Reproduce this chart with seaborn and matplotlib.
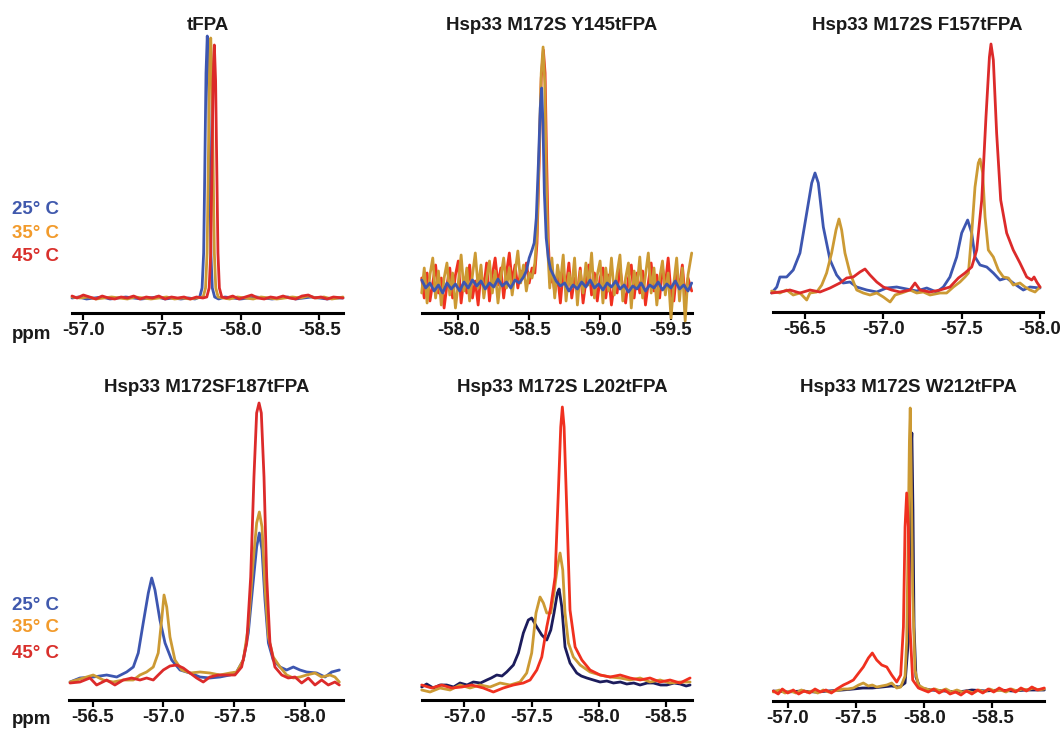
import numpy as np
import matplotlib
matplotlib.use("Agg")
import matplotlib.pyplot as plt
import seaborn as sns

# ---------------- data (ppm, intensity in a.u.) ----------------
legend_labels = ["25° C", "35° C", "45° C"]
titles = ["tFPA", "Hsp33 M172S Y145tFPA", "Hsp33 M172S F157tFPA",
          "Hsp33 M172SF187tFPA", "Hsp33 M172S L202tFPA", "Hsp33 M172S W212tFPA"]

p1_ticks = [-57.0, -57.5, -58.0, -58.5]
p2_ticks = [-58.0, -58.5, -59.0, -59.5]
p3_ticks = [-56.5, -57.0, -57.5, -58.0]
p4_ticks = [-56.5, -57.0, -57.5, -58.0]
p5_ticks = [-57.0, -57.5, -58.0, -58.5]
p6_ticks = [-57.0, -57.5, -58.0, -58.5]

p1_blue = [(-56.928, 15), (-56.97, 16), (-57.02, 14), (-57.07, 15), (-57.12, 16), (-57.17, 14), (-57.22, 15),
           (-57.27, 16), (-57.32, 15), (-57.37, 14), (-57.42, 15), (-57.47, 16), (-57.52, 14), (-57.57, 15),
           (-57.62, 14), (-57.67, 15), (-57.71, 14), (-57.74, 16), (-57.755, 25), (-57.765, 60), (-57.772, 140),
           (-57.780, 240), (-57.788, 277), (-57.796, 240), (-57.804, 140), (-57.811, 60), (-57.82, 25),
           (-57.835, 16), (-57.86, 14), (-57.90, 16), (-57.95, 15), (-58.00, 14), (-58.05, 15), (-58.10, 16),
           (-58.15, 15), (-58.20, 14), (-58.25, 15), (-58.30, 16), (-58.35, 14), (-58.40, 15), (-58.45, 16),
           (-58.50, 15), (-58.55, 14), (-58.60, 15), (-58.651, 15)]
p1_orange = [(-56.928, 16), (-56.98, 15), (-57.03, 16), (-57.08, 14), (-57.13, 15), (-57.18, 16), (-57.23, 15),
             (-57.28, 14), (-57.33, 16), (-57.38, 15), (-57.43, 14), (-57.48, 15), (-57.53, 16), (-57.58, 14),
             (-57.63, 15), (-57.68, 14), (-57.72, 15), (-57.762, 16), (-57.777, 25), (-57.787, 60),
             (-57.794, 140), (-57.802, 238), (-57.810, 275), (-57.818, 238), (-57.826, 140), (-57.833, 60),
             (-57.842, 25), (-57.857, 16), (-57.89, 15), (-57.93, 14), (-57.98, 16), (-58.03, 15), (-58.08, 14),
             (-58.13, 16), (-58.18, 15), (-58.23, 14), (-58.28, 15), (-58.33, 16), (-58.38, 15), (-58.43, 17),
             (-58.48, 15), (-58.53, 16), (-58.58, 14), (-58.62, 15), (-58.651, 16)]
p1_red = [(-56.928, 17), (-56.96, 15), (-57.0, 18), (-57.04, 16), (-57.08, 14), (-57.12, 17), (-57.16, 15),
          (-57.20, 14), (-57.24, 16), (-57.28, 15), (-57.32, 17), (-57.36, 14), (-57.40, 16), (-57.44, 15),
          (-57.48, 17), (-57.52, 14), (-57.56, 16), (-57.60, 15), (-57.64, 16), (-57.68, 14), (-57.72, 16),
          (-57.76, 15), (-57.785, 16), (-57.80, 25), (-57.81, 60), (-57.817, 140), (-57.825, 232),
          (-57.833, 268), (-57.841, 232), (-57.849, 140), (-57.856, 60), (-57.865, 25), (-57.88, 16),
          (-57.91, 15), (-57.95, 17), (-57.99, 14), (-58.03, 16), (-58.07, 18), (-58.11, 15), (-58.15, 14),
          (-58.19, 16), (-58.23, 15), (-58.27, 17), (-58.31, 15), (-58.35, 14), (-58.39, 17), (-58.43, 18),
          (-58.47, 15), (-58.51, 16), (-58.55, 14), (-58.59, 16), (-58.651, 15)]

p2_blue = [(-57.742, 33), (-57.77, 25), (-57.80, 30), (-57.83, 22), (-57.86, 28), (-57.89, 20), (-57.92, 30),
           (-57.95, 24), (-57.98, 29), (-58.01, 22), (-58.04, 31), (-58.07, 25), (-58.10, 33), (-58.13, 27),
           (-58.16, 32), (-58.19, 24), (-58.22, 30), (-58.25, 26), (-58.28, 34), (-58.31, 27), (-58.34, 31),
           (-58.37, 25), (-58.40, 33), (-58.43, 30), (-58.46, 36), (-58.48, 42), (-58.50, 55), (-58.52, 63),
           (-58.535, 70), (-58.55, 95), (-58.565, 150), (-58.578, 205), (-58.588, 225), (-58.597, 190),
           (-58.607, 120), (-58.62, 75), (-58.635, 55), (-58.65, 44), (-58.67, 38), (-58.69, 32), (-58.72, 27),
           (-58.75, 30), (-58.78, 22), (-58.81, 28), (-58.84, 24), (-58.87, 31), (-58.90, 26), (-58.93, 33),
           (-58.96, 25), (-58.99, 29), (-59.02, 23), (-59.05, 30), (-59.08, 26), (-59.11, 32), (-59.14, 24),
           (-59.17, 28), (-59.20, 21), (-59.23, 27), (-59.26, 24), (-59.29, 30), (-59.32, 22), (-59.35, 28),
           (-59.38, 25), (-59.41, 31), (-59.44, 23), (-59.47, 29), (-59.50, 25), (-59.53, 32), (-59.56, 24),
           (-59.59, 28), (-59.62, 22), (-59.646, 30)]
p2_orange = [(-57.742, 20), (-57.76, 45), (-57.78, 10), (-57.80, 38), (-57.82, 55), (-57.84, 15), (-57.86, 42),
             (-57.88, 8), (-57.90, 35), (-57.92, 50), (-57.94, 18), (-57.96, 40), (-57.98, 5), (-58.00, 30),
             (-58.02, 58), (-58.04, 22), (-58.06, 45), (-58.08, 12), (-58.10, 38), (-58.12, 60), (-58.14, 25),
             (-58.16, 48), (-58.18, 15), (-58.20, 35), (-58.22, 52), (-58.24, 20), (-58.26, 42), (-58.28, 10),
             (-58.30, 36), (-58.32, 55), (-58.34, 25), (-58.36, 45), (-58.38, 18), (-58.40, 40), (-58.42, 62),
             (-58.44, 30), (-58.46, 48), (-58.48, 22), (-58.50, 40), (-58.52, 35), (-58.54, 50), (-58.555, 80),
             (-58.57, 160), (-58.585, 240), (-58.598, 266), (-58.61, 230), (-58.62, 140), (-58.632, 60),
             (-58.645, 25), (-58.66, 55), (-58.68, 15), (-58.70, 48), (-58.72, 30), (-58.74, 58), (-58.76, 12),
             (-58.78, 40), (-58.80, 25), (-58.82, 55), (-58.84, 8), (-58.86, 42), (-58.88, 20), (-58.90, 50),
             (-58.92, 28), (-58.94, 60), (-58.96, 15), (-58.98, 38), (-59.00, 52), (-59.02, 10), (-59.04, 45),
             (-59.06, 22), (-59.08, 55), (-59.10, 18), (-59.12, 40), (-59.14, 58), (-59.16, 12), (-59.18, 35),
             (-59.20, 50), (-59.22, 5), (-59.24, 42), (-59.26, 25), (-59.28, 56), (-59.30, 15), (-59.32, 38),
             (-59.34, 60), (-59.36, 20), (-59.38, 45), (-59.40, 8), (-59.42, 35), (-59.44, 52), (-59.46, 18),
             (-59.48, 40), (-59.50, -5), (-59.52, 30), (-59.54, 55), (-59.56, 12), (-59.58, 45), (-59.60, -8),
             (-59.62, 38), (-59.646, 60)]
p2_red = [(-57.742, 35), (-57.76, 15), (-57.78, 40), (-57.80, 12), (-57.82, 30), (-57.84, 48), (-57.86, 20),
          (-57.88, 35), (-57.90, 5), (-57.92, 28), (-57.94, 45), (-57.96, 15), (-57.98, 38), (-58.00, 52),
          (-58.02, 10), (-58.04, 35), (-58.06, 20), (-58.08, 48), (-58.10, 15), (-58.12, 32), (-58.14, 8),
          (-58.16, 40), (-58.18, 25), (-58.20, 50), (-58.22, 12), (-58.24, 38), (-58.26, 55), (-58.28, 28),
          (-58.30, 45), (-58.32, 15), (-58.34, 40), (-58.36, 60), (-58.38, 30), (-58.40, 48), (-58.42, 25),
          (-58.44, 42), (-58.46, 35), (-58.48, 50), (-58.50, 30), (-58.52, 45), (-58.54, 40), (-58.555, 70),
          (-58.57, 150), (-58.585, 235), (-58.600, 263), (-58.612, 240), (-58.622, 160), (-58.635, 70),
          (-58.648, 30), (-58.66, 45), (-58.68, 20), (-58.70, 38), (-58.72, 10), (-58.74, 42), (-58.76, 25),
          (-58.78, 50), (-58.80, 15), (-58.82, 35), (-58.84, 20), (-58.86, 45), (-58.88, 10), (-58.90, 32),
          (-58.92, 48), (-58.94, 18), (-58.96, 40), (-58.98, 12), (-59.00, 35), (-59.02, 45), (-59.04, 15),
          (-59.06, 38), (-59.08, 8), (-59.10, 30), (-59.12, 20), (-59.14, 45), (-59.16, 25), (-59.18, 10),
          (-59.20, 35), (-59.22, 48), (-59.24, 15), (-59.26, 40), (-59.28, 20), (-59.30, 42), (-59.32, 8),
          (-59.34, 30), (-59.36, 50), (-59.38, 22), (-59.40, 38), (-59.42, 15), (-59.44, 45), (-59.46, 28),
          (-59.48, 55), (-59.50, 20), (-59.52, 12), (-59.54, 40), (-59.56, 25), (-59.58, 48), (-59.60, 15),
          (-59.62, 35), (-59.646, 22)]

p3_blue = [(-56.287, 19), (-56.32, 25), (-56.34, 35), (-56.383, 35), (-56.425, 42), (-56.468, 59), (-56.511, 99),
           (-56.543, 129), (-56.564, 139), (-56.585, 129), (-56.617, 85), (-56.66, 52), (-56.702, 37),
           (-56.744, 29), (-56.787, 30), (-56.83, 25), (-56.894, 22), (-56.958, 20), (-57.021, 24), (-57.085, 25),
           (-57.149, 23), (-57.213, 21), (-57.277, 24), (-57.34, 20), (-57.383, 25), (-57.425, 35), (-57.468, 55),
           (-57.5, 79), (-57.538, 92), (-57.564, 79), (-57.585, 55), (-57.617, 47), (-57.66, 45), (-57.702, 39),
           (-57.744, 32), (-57.787, 34), (-57.829, 29), (-57.893, 22), (-57.936, 25), (-58.0, 24)]
p3_orange = [(-56.287, 21), (-56.34, 19), (-56.383, 22), (-56.425, 17), (-56.468, 19), (-56.511, 12),
             (-56.532, 19), (-56.575, 20), (-56.607, 27), (-56.638, 39), (-56.67, 59), (-56.698, 82), (-56.717, 93),
             (-56.734, 82), (-56.755, 59), (-56.787, 39), (-56.83, 22), (-56.872, 19), (-56.915, 17), (-56.958, 19),
             (-57.0, 15), (-57.043, 10), (-57.075, 17), (-57.117, 19), (-57.17, 22), (-57.213, 19), (-57.255, 20),
             (-57.298, 17), (-57.362, 19), (-57.404, 19), (-57.447, 25), (-57.489, 30), (-57.521, 35),
             (-57.543, 39), (-57.564, 79), (-57.585, 125), (-57.606, 149), (-57.617, 153), (-57.634, 139),
             (-57.649, 95), (-57.67, 62), (-57.702, 55), (-57.734, 42), (-57.766, 35), (-57.798, 34), (-57.829, 27),
             (-57.872, 29), (-57.904, 25), (-57.936, 22), (-57.968, 20), (-58.0, 25)]
p3_red = [(-56.287, 19), (-56.34, 20), (-56.404, 22), (-56.468, 19), (-56.532, 22), (-56.596, 20), (-56.66, 24),
          (-56.723, 29), (-56.766, 34), (-56.808, 35), (-56.851, 40), (-56.883, 43), (-56.915, 37), (-56.958, 30),
          (-57.0, 25), (-57.053, 22), (-57.106, 20), (-57.17, 22), (-57.202, 29), (-57.234, 22), (-57.298, 20),
          (-57.362, 22), (-57.425, 25), (-57.479, 34), (-57.521, 39), (-57.564, 45), (-57.596, 62), (-57.628, 112),
          (-57.655, 195), (-57.677, 255), (-57.687, 268), (-57.702, 252), (-57.723, 179), (-57.749, 112),
          (-57.787, 79), (-57.829, 62), (-57.872, 49), (-57.915, 35), (-57.947, 32), (-57.962, 35), (-57.979, 30),
          (-58.0, 25)]

p4_blue = [(-56.34, 18), (-56.41, 22), (-56.504, 23), (-56.599, 25), (-56.67, 23), (-56.74, 28), (-56.787, 33),
           (-56.822, 47), (-56.857, 77), (-56.893, 107), (-56.917, 122), (-56.94, 110), (-56.975, 80),
           (-57.011, 57), (-57.058, 40), (-57.117, 30), (-57.187, 27), (-57.258, 23), (-57.328, 22), (-57.399, 23),
           (-57.47, 25), (-57.517, 28), (-57.564, 40), (-57.599, 67), (-57.63, 113), (-57.658, 153), (-57.677, 167),
           (-57.696, 150), (-57.717, 100), (-57.741, 57), (-57.775, 40), (-57.823, 33), (-57.87, 30),
           (-57.917, 33), (-57.964, 30), (-58.011, 28), (-58.082, 27), (-58.141, 23), (-58.188, 28), (-58.242, 30)]
p4_orange = [(-56.34, 18), (-56.434, 22), (-56.504, 25), (-56.575, 20), (-56.645, 18), (-56.716, 20), (-56.787, 20),
             (-56.834, 25), (-56.881, 28), (-56.928, 33), (-56.963, 47), (-56.987, 80), (-57.004, 105),
             (-57.023, 93), (-57.046, 63), (-57.081, 40), (-57.129, 30), (-57.187, 27), (-57.258, 28), (-57.328, 27),
             (-57.399, 25), (-57.47, 27), (-57.517, 28), (-57.564, 40), (-57.599, 73), (-57.63, 133), (-57.658, 177),
             (-57.677, 188), (-57.696, 173), (-57.717, 113), (-57.741, 63), (-57.775, 43), (-57.823, 33),
             (-57.87, 25), (-57.917, 22), (-57.964, 23), (-58.011, 25), (-58.07, 27), (-58.117, 23), (-58.176, 25),
             (-58.211, 23), (-58.242, 18)]
p4_red = [(-56.34, 17), (-56.41, 18), (-56.481, 22), (-56.528, 15), (-56.599, 20), (-56.657, 15), (-56.716, 20),
          (-56.775, 22), (-56.834, 20), (-56.881, 22), (-56.928, 20), (-56.963, 25), (-56.999, 30), (-57.046, 34),
          (-57.093, 35), (-57.14, 32), (-57.187, 27), (-57.234, 22), (-57.281, 18), (-57.328, 23), (-57.387, 25),
          (-57.446, 25), (-57.505, 25), (-57.552, 33), (-57.588, 57), (-57.616, 123), (-57.639, 223),
          (-57.658, 287), (-57.675, 297), (-57.691, 287), (-57.71, 223), (-57.729, 123), (-57.752, 57),
          (-57.787, 33), (-57.835, 25), (-57.881, 22), (-57.929, 23), (-57.976, 17), (-58.023, 22), (-58.07, 15),
          (-58.117, 20), (-58.164, 15), (-58.211, 18), (-58.242, 15)]

p5_navy = [(-56.683, 13), (-56.72, 16), (-56.769, 12), (-56.82, 15), (-56.869, 15), (-56.92, 13), (-56.968, 17),
           (-57.02, 15), (-57.067, 18), (-57.12, 17), (-57.167, 20), (-57.2, 22), (-57.241, 25), (-57.28, 24),
           (-57.315, 28), (-57.365, 35), (-57.402, 47), (-57.439, 67), (-57.476, 80), (-57.501, 82), (-57.539, 73),
           (-57.576, 65), (-57.613, 60), (-57.643, 70), (-57.667, 87), (-57.692, 107), (-57.705, 111),
           (-57.725, 93), (-57.749, 53), (-57.786, 37), (-57.836, 27), (-57.87, 24), (-57.911, 22), (-57.96, 20),
           (-58.01, 18), (-58.06, 19), (-58.109, 17), (-58.16, 18), (-58.208, 16), (-58.26, 17), (-58.307, 15),
           (-58.36, 17), (-58.406, 17), (-58.46, 15), (-58.506, 15), (-58.56, 17), (-58.605, 16), (-58.65, 14),
           (-58.679, 15)]
p5_orange = [(-56.683, 10), (-56.745, 8), (-56.819, 12), (-56.894, 10), (-56.968, 15), (-57.042, 12),
             (-57.117, 15), (-57.191, 13), (-57.266, 17), (-57.34, 15), (-57.414, 18), (-57.464, 27), (-57.501, 47),
             (-57.533, 87), (-57.563, 103), (-57.588, 97), (-57.613, 87), (-57.643, 87), (-57.667, 107),
             (-57.692, 133), (-57.712, 147), (-57.732, 130), (-57.749, 87), (-57.774, 57), (-57.811, 43),
             (-57.861, 35), (-57.935, 28), (-58.01, 25), (-58.084, 23), (-58.159, 22), (-58.233, 20), (-58.307, 22),
             (-58.381, 18), (-58.456, 20), (-58.53, 17), (-58.605, 18), (-58.679, 18)]
p5_red = [(-56.683, 15), (-56.757, 12), (-56.832, 15), (-56.906, 12), (-56.981, 13), (-57.055, 15), (-57.141, 12),
          (-57.216, 8), (-57.29, 12), (-57.365, 15), (-57.439, 17), (-57.489, 20), (-57.539, 30), (-57.576, 43),
          (-57.613, 73), (-57.643, 93), (-57.675, 123), (-57.699, 207), (-57.717, 273), (-57.729, 293),
          (-57.742, 273), (-57.762, 190), (-57.786, 90), (-57.824, 53), (-57.874, 40), (-57.935, 30), (-58.01, 25),
          (-58.084, 23), (-58.159, 25), (-58.233, 22), (-58.307, 20), (-58.381, 22), (-58.456, 18), (-58.53, 20),
          (-58.605, 17), (-58.679, 22)]

p6_navy = [(-56.894, 10), (-57.0, 9), (-57.1, 10), (-57.2, 9), (-57.3, 10), (-57.4, 11), (-57.48, 12),
           (-57.55, 13), (-57.62, 13), (-57.69, 14), (-57.76, 15), (-57.82, 14), (-57.86, 18), (-57.884, 60),
           (-57.896, 170), (-57.904, 250), (-57.91, 268), (-57.918, 191), (-57.926, 74), (-57.94, 24),
           (-57.97, 13), (-58.05, 11), (-58.15, 10), (-58.25, 9), (-58.35, 11), (-58.45, 10), (-58.55, 11),
           (-58.65, 10), (-58.75, 11), (-58.881, 11)]
p6_orange = [(-56.894, 9), (-56.94, 11), (-56.98, 8), (-57.02, 10), (-57.06, 8), (-57.1, 11), (-57.14, 9),
             (-57.18, 10), (-57.22, 8), (-57.26, 11), (-57.3, 9), (-57.34, 10), (-57.38, 11), (-57.408, 12),
             (-57.44, 12), (-57.481, 13), (-57.52, 16), (-57.554, 18), (-57.591, 15), (-57.62, 16), (-57.652, 14),
             (-57.689, 15), (-57.726, 16), (-57.762, 18), (-57.799, 13), (-57.828, 14), (-57.86, 25), (-57.872, 60),
             (-57.884, 174), (-57.892, 260), (-57.898, 293), (-57.904, 241), (-57.916, 108), (-57.933, 31),
             (-57.958, 16), (-57.994, 13), (-58.04, 11), (-58.08, 12), (-58.12, 10), (-58.16, 12), (-58.2, 9),
             (-58.24, 11), (-58.28, 9), (-58.32, 10), (-58.36, 8), (-58.4, 11), (-58.44, 9), (-58.48, 12),
             (-58.52, 10), (-58.56, 11), (-58.6, 9), (-58.64, 12), (-58.68, 10), (-58.72, 12), (-58.76, 11),
             (-58.8, 13), (-58.84, 11), (-58.881, 12)]
p6_red = [(-56.894, 10), (-56.93, 7), (-56.96, 12), (-57.0, 8), (-57.04, 11), (-57.08, 7), (-57.12, 10), (-57.16, 8),
          (-57.2, 12), (-57.24, 9), (-57.28, 11), (-57.32, 8), (-57.36, 12), (-57.408, 16), (-57.44, 18),
          (-57.481, 21), (-57.52, 28), (-57.554, 34), (-57.591, 43), (-57.62, 48), (-57.652, 41), (-57.689, 36),
          (-57.726, 34), (-57.762, 26), (-57.799, 19), (-57.828, 26), (-57.848, 74), (-57.86, 174), (-57.872, 208),
          (-57.884, 174), (-57.896, 74), (-57.916, 21), (-57.958, 13), (-57.994, 11), (-58.03, 9), (-58.07, 12),
          (-58.11, 8), (-58.15, 11), (-58.19, 7), (-58.23, 9), (-58.27, 6), (-58.31, 10), (-58.35, 7), (-58.39, 11),
          (-58.43, 8), (-58.47, 12), (-58.51, 9), (-58.55, 13), (-58.59, 10), (-58.63, 12), (-58.67, 9),
          (-58.71, 13), (-58.75, 10), (-58.79, 14), (-58.83, 11), (-58.881, 13)]

# ---------------- style ----------------
BLUE = "#3d56b0"
ORANGE = "#cc9a34"
RED = "#dc2a2a"
RED2 = "#f0301f"
NAVY = "#1c1c5c"
LEG_COLORS = ["#4059ad", "#f29b2c", "#d9302c"]
TXT = "#1a1a1a"

sns.set_style("white")
plt.rcParams["font.family"] = ["Liberation Sans", "DejaVu Sans"]
plt.rcParams["font.weight"] = "bold"
plt.rcParams["axes.unicode_minus"] = False

W, H = 1064, 730
fig = plt.figure(figsize=(W / 100, H / 100), dpi=100)


def rect(l, t, r, b):
    return [l / W, 1 - b / H, (r - l) / W, (b - t) / H]


panels = [
    dict(box=(72, 30, 343, 313), xlim=(-56.928, -58.651), ticks=p1_ticks, title=titles[0], tdx=0, tdy=5,
         curves=[(p1_blue, BLUE), (p1_orange, ORANGE), (p1_red, RED)]),
    dict(box=(421.7, 30, 691.7, 313), xlim=(-57.742, -59.646), ticks=p2_ticks, title=titles[1], tdx=-5, tdy=5,
         curves=[(p2_red, RED2), (p2_orange, ORANGE), (p2_blue, BLUE)]),
    dict(box=(772.7, 30, 1042.7, 312), xlim=(-56.294, -58.017), ticks=p3_ticks, title=titles[2], tdx=10, tdy=5,
         curves=[(p3_blue, BLUE), (p3_orange, ORANGE), (p3_red, RED)]),
    dict(box=(69.3, 398, 343.3, 700), xlim=(-56.335, -58.27), ticks=p4_ticks, title=titles[3], tdx=0, tdy=10,
         curves=[(p4_blue, BLUE), (p4_orange, ORANGE), (p4_red, RED)]),
    dict(box=(421.7, 398, 691.7, 700), xlim=(-56.683, -58.691), ticks=p5_ticks, title=titles[4], tdx=6, tdy=10,
         curves=[(p5_navy, NAVY), (p5_orange, ORANGE), (p5_red, RED2)]),
    dict(box=(773.3, 398, 1044.3, 701), xlim=(-56.894, -58.881), ticks=p6_ticks, title=titles[5], tdx=0, tdy=10,
         curves=[(p6_navy, NAVY), (p6_orange, ORANGE), (p6_red, RED2)]),
]

for p in panels:
    l, t, r, b = p["box"]
    ax = fig.add_axes(rect(l, t, r, b))
    for data, color in p["curves"]:
        arr = np.array(data, dtype=float)
        sns.lineplot(x=arr[:, 0], y=arr[:, 1], color=color, linewidth=2.0, ax=ax,
                     estimator=None, sort=False)
    for ln in ax.lines:
        ln.set_clip_on(False)
        ln.set_solid_joinstyle("round")
    ax.set_xlim(*p["xlim"])
    ax.set_ylim(0, b - t)
    ax.set_yticks([])
    sns.despine(ax=ax, left=True, top=True, right=True)
    ax.spines["bottom"].set_linewidth(2.2)
    ax.spines["bottom"].set_color("black")
    ax.spines["bottom"].set_zorder(1)
    ax.set_xticks(p["ticks"])
    ax.set_xticklabels([f"{v:.1f}" for v in p["ticks"]])
    ax.tick_params(axis="x", direction="out", length=5, width=1.6, pad=1.5,
                   labelsize=13.5, colors=TXT, bottom=True)
    ax.tick_params(axis="x", color="black")
    for lab in ax.get_xticklabels():
        lab.set_fontweight("bold")
    ax.set_xlabel("")
    ax.set_ylabel("")
    ax.annotate(p["title"], xy=(0.5, 1.0), xycoords="axes fraction", xytext=(p["tdx"], p["tdy"]),
                textcoords="offset pixels", ha="center", va="center", fontsize=13.5,
                fontweight="bold", color=TXT)

# temperature legends
for ys in ([210, 233, 257], [605, 628, 653]):
    for lab, col, y in zip(legend_labels, LEG_COLORS, ys):
        fig.text(12 / W, 1 - y / H, lab, color=col, fontsize=13.5, fontweight="bold",
                 ha="left", va="center")

# ppm labels
for y in (339, 724):
    fig.text(12 / W, 1 - y / H, "ppm", color=TXT, fontsize=13.5, fontweight="bold",
             ha="left", va="baseline")

fig.savefig("out.png", dpi=100)
